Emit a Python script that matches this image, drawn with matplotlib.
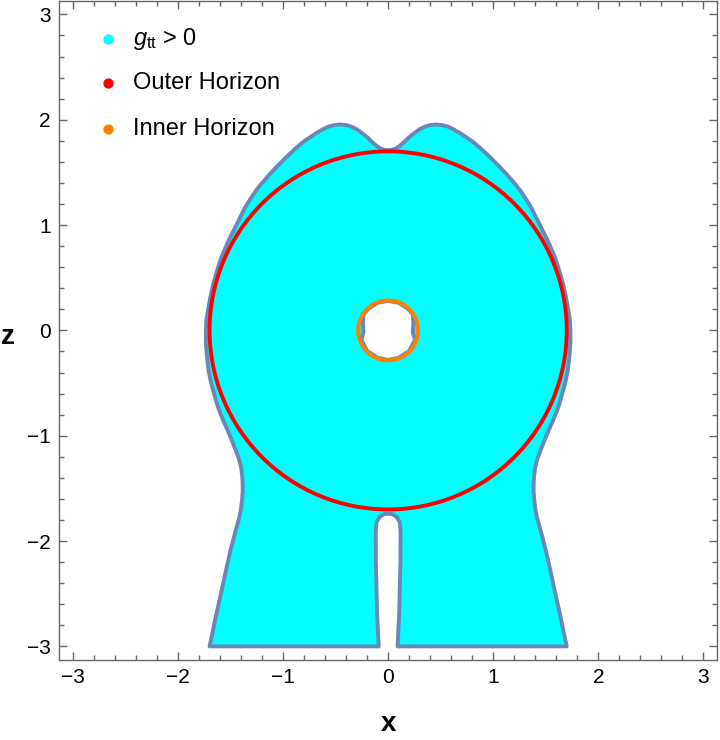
import numpy as np
import matplotlib
matplotlib.use('Agg')
import matplotlib.pyplot as plt
from matplotlib.path import Path
from matplotlib.patches import PathPatch, Circle

plt.rcParams['font.family'] = ['Liberation Sans', 'DejaVu Sans']
plt.rcParams['mathtext.fontset'] = 'custom'
plt.rcParams['mathtext.rm'] = 'Liberation Sans'
plt.rcParams['mathtext.it'] = 'Liberation Sans:italic'

# right half of the g_tt > 0 outline, from top centre down to bottom-right corner
right_x = [0.00, 0.04, 0.08, 0.12, 0.16, 0.20, 0.25, 0.30, 0.35, 0.40, 0.455, 0.51, 0.57,
           0.63, 0.69, 0.75, 0.82, 0.89, 0.97, 1.05, 1.13, 1.20, 1.26, 1.31, 1.36, 1.40,
           1.44, 1.48, 1.52, 1.555, 1.59, 1.615, 1.64, 1.665, 1.69, 1.71, 1.73, 1.735,
           1.735, 1.725, 1.71, 1.685, 1.66, 1.635, 1.61, 1.58, 1.545, 1.51, 1.48, 1.45,
           1.42, 1.40, 1.39, 1.385, 1.385, 1.39, 1.40, 1.415, 1.44, 1.46, 1.48, 1.50,
           1.535, 1.57, 1.605, 1.64, 1.67, 1.70]
right_z = [1.71, 1.715, 1.73, 1.76, 1.795, 1.835, 1.875, 1.91, 1.935, 1.95, 1.955, 1.95,
           1.935, 1.905, 1.87, 1.83, 1.78, 1.72, 1.645, 1.565, 1.48, 1.40, 1.325, 1.25,
           1.17, 1.09, 1.01, 0.93, 0.85, 0.77, 0.69, 0.61, 0.53, 0.44, 0.33, 0.22, 0.10,
           0.00, -0.12, -0.25, -0.38, -0.50, -0.59, -0.68, -0.755, -0.83, -0.91, -0.99,
           -1.065, -1.14, -1.22, -1.30, -1.375, -1.45, -1.53, -1.60, -1.69, -1.77, -1.86,
           -1.93, -2.01, -2.085, -2.24, -2.40, -2.56, -2.715, -2.86, -3.00]
# right half of the slit below the horizon, from the bottom up to its tip
slit_x = [0.09, 0.105, 0.117, 0.118, 0.11, 0.08, 0.04, 0.00]
slit_z = [-3.00, -2.69, -2.20, -1.90, -1.82, -1.77, -1.745, -1.74]
# hole around the origin
hole_x = [0.00, -0.10, -0.19, -0.235, -0.24, -0.235, -0.255, -0.20, -0.10,
          0.00, 0.10, 0.20, 0.255, 0.235, 0.24, 0.235, 0.19, 0.10]
hole_z = [0.28, 0.262, 0.205, 0.15, 0.07, -0.02, -0.09, -0.195, -0.26,
          -0.28, -0.26, -0.195, -0.09, -0.02, 0.07, 0.15, 0.205, 0.262]

outer_r = 1.70
inner_r = 0.285

legend_labels = [r'$g_{\mathrm{tt}}$ > 0', 'Outer Horizon', 'Inner Horizon']
legend_colors = ['#00ffff', '#ff0000', '#ff8000']

rx, rz = np.array(right_x), np.array(right_z)
sx, sz = np.array(slit_x), np.array(slit_z)
ox = np.concatenate([rx, sx, -sx[::-1][1:], -rx[::-1][:-1]])
oz = np.concatenate([rz, sz, sz[::-1][1:], rz[::-1][:-1]])
outer = np.column_stack([ox, oz])
hole = np.column_stack([hole_x, hole_z])

verts = np.vstack([outer, outer[:1], hole, hole[:1]])
codes = ([Path.MOVETO] + [Path.LINETO] * (len(outer) - 1) + [Path.CLOSEPOLY]
         + [Path.MOVETO] + [Path.LINETO] * (len(hole) - 1) + [Path.CLOSEPOLY])

fig = plt.figure(figsize=(7.2, 7.4), dpi=100)
ax = fig.add_axes([0.0824, 0.108, 0.9134, 0.891])

ax.add_patch(PathPatch(Path(verts, codes), facecolor='#00ffff', edgecolor='#6a87b7',
                       lw=2.8, joinstyle='round', zorder=2))
ax.add_patch(Circle((0, 0), outer_r, fill=False, edgecolor=legend_colors[1], lw=2.8, zorder=3))
ax.add_patch(Circle((0, 0), inner_r, fill=False, edgecolor=legend_colors[2], lw=2.8, zorder=3))

ax.set_xlim(-3.13, 3.13)
ax.set_ylim(-3.13, 3.13)

tick_labels = ['\u22123', '\u22122', '\u22121', '0', '1', '2', '3']
ax.set_xticks(np.arange(-3, 4))
ax.set_yticks(np.arange(-3, 4))
ax.set_xticklabels(tick_labels)
ax.set_yticklabels(tick_labels)
ax.set_xticks(np.arange(-3.0, 3.05, 0.2), minor=True)
ax.set_yticks(np.arange(-3.0, 3.05, 0.2), minor=True)
ax.tick_params(which='both', direction='in', top=True, right=True, color='#666666', width=1)
ax.tick_params(which='major', length=6, labelsize=15, pad=6)
ax.tick_params(which='minor', length=3.5)
for s in ax.spines.values():
    s.set_color('#666666')
    s.set_linewidth(1)

ax.set_xlabel('x', fontsize=20, fontweight='bold', va='center')
ax.set_ylabel('z', fontsize=20, fontweight='bold', rotation=0, va='center', ha='center')
ax.xaxis.set_label_coords(0.5, -0.097)
ax.yaxis.set_label_coords(-0.079, 0.49)

dot_y = [0.9427, 0.8745, 0.8062]
for lab, col, y in zip(legend_labels, legend_colors, dot_y):
    ax.scatter([0.0745], [y], s=55, color=col, transform=ax.transAxes, zorder=5, linewidths=0)
    ax.text(0.1116, y, lab, fontsize=17, va='center', ha='left', transform=ax.transAxes)

fig.savefig('out.png', dpi=100)
plt.close(fig)
